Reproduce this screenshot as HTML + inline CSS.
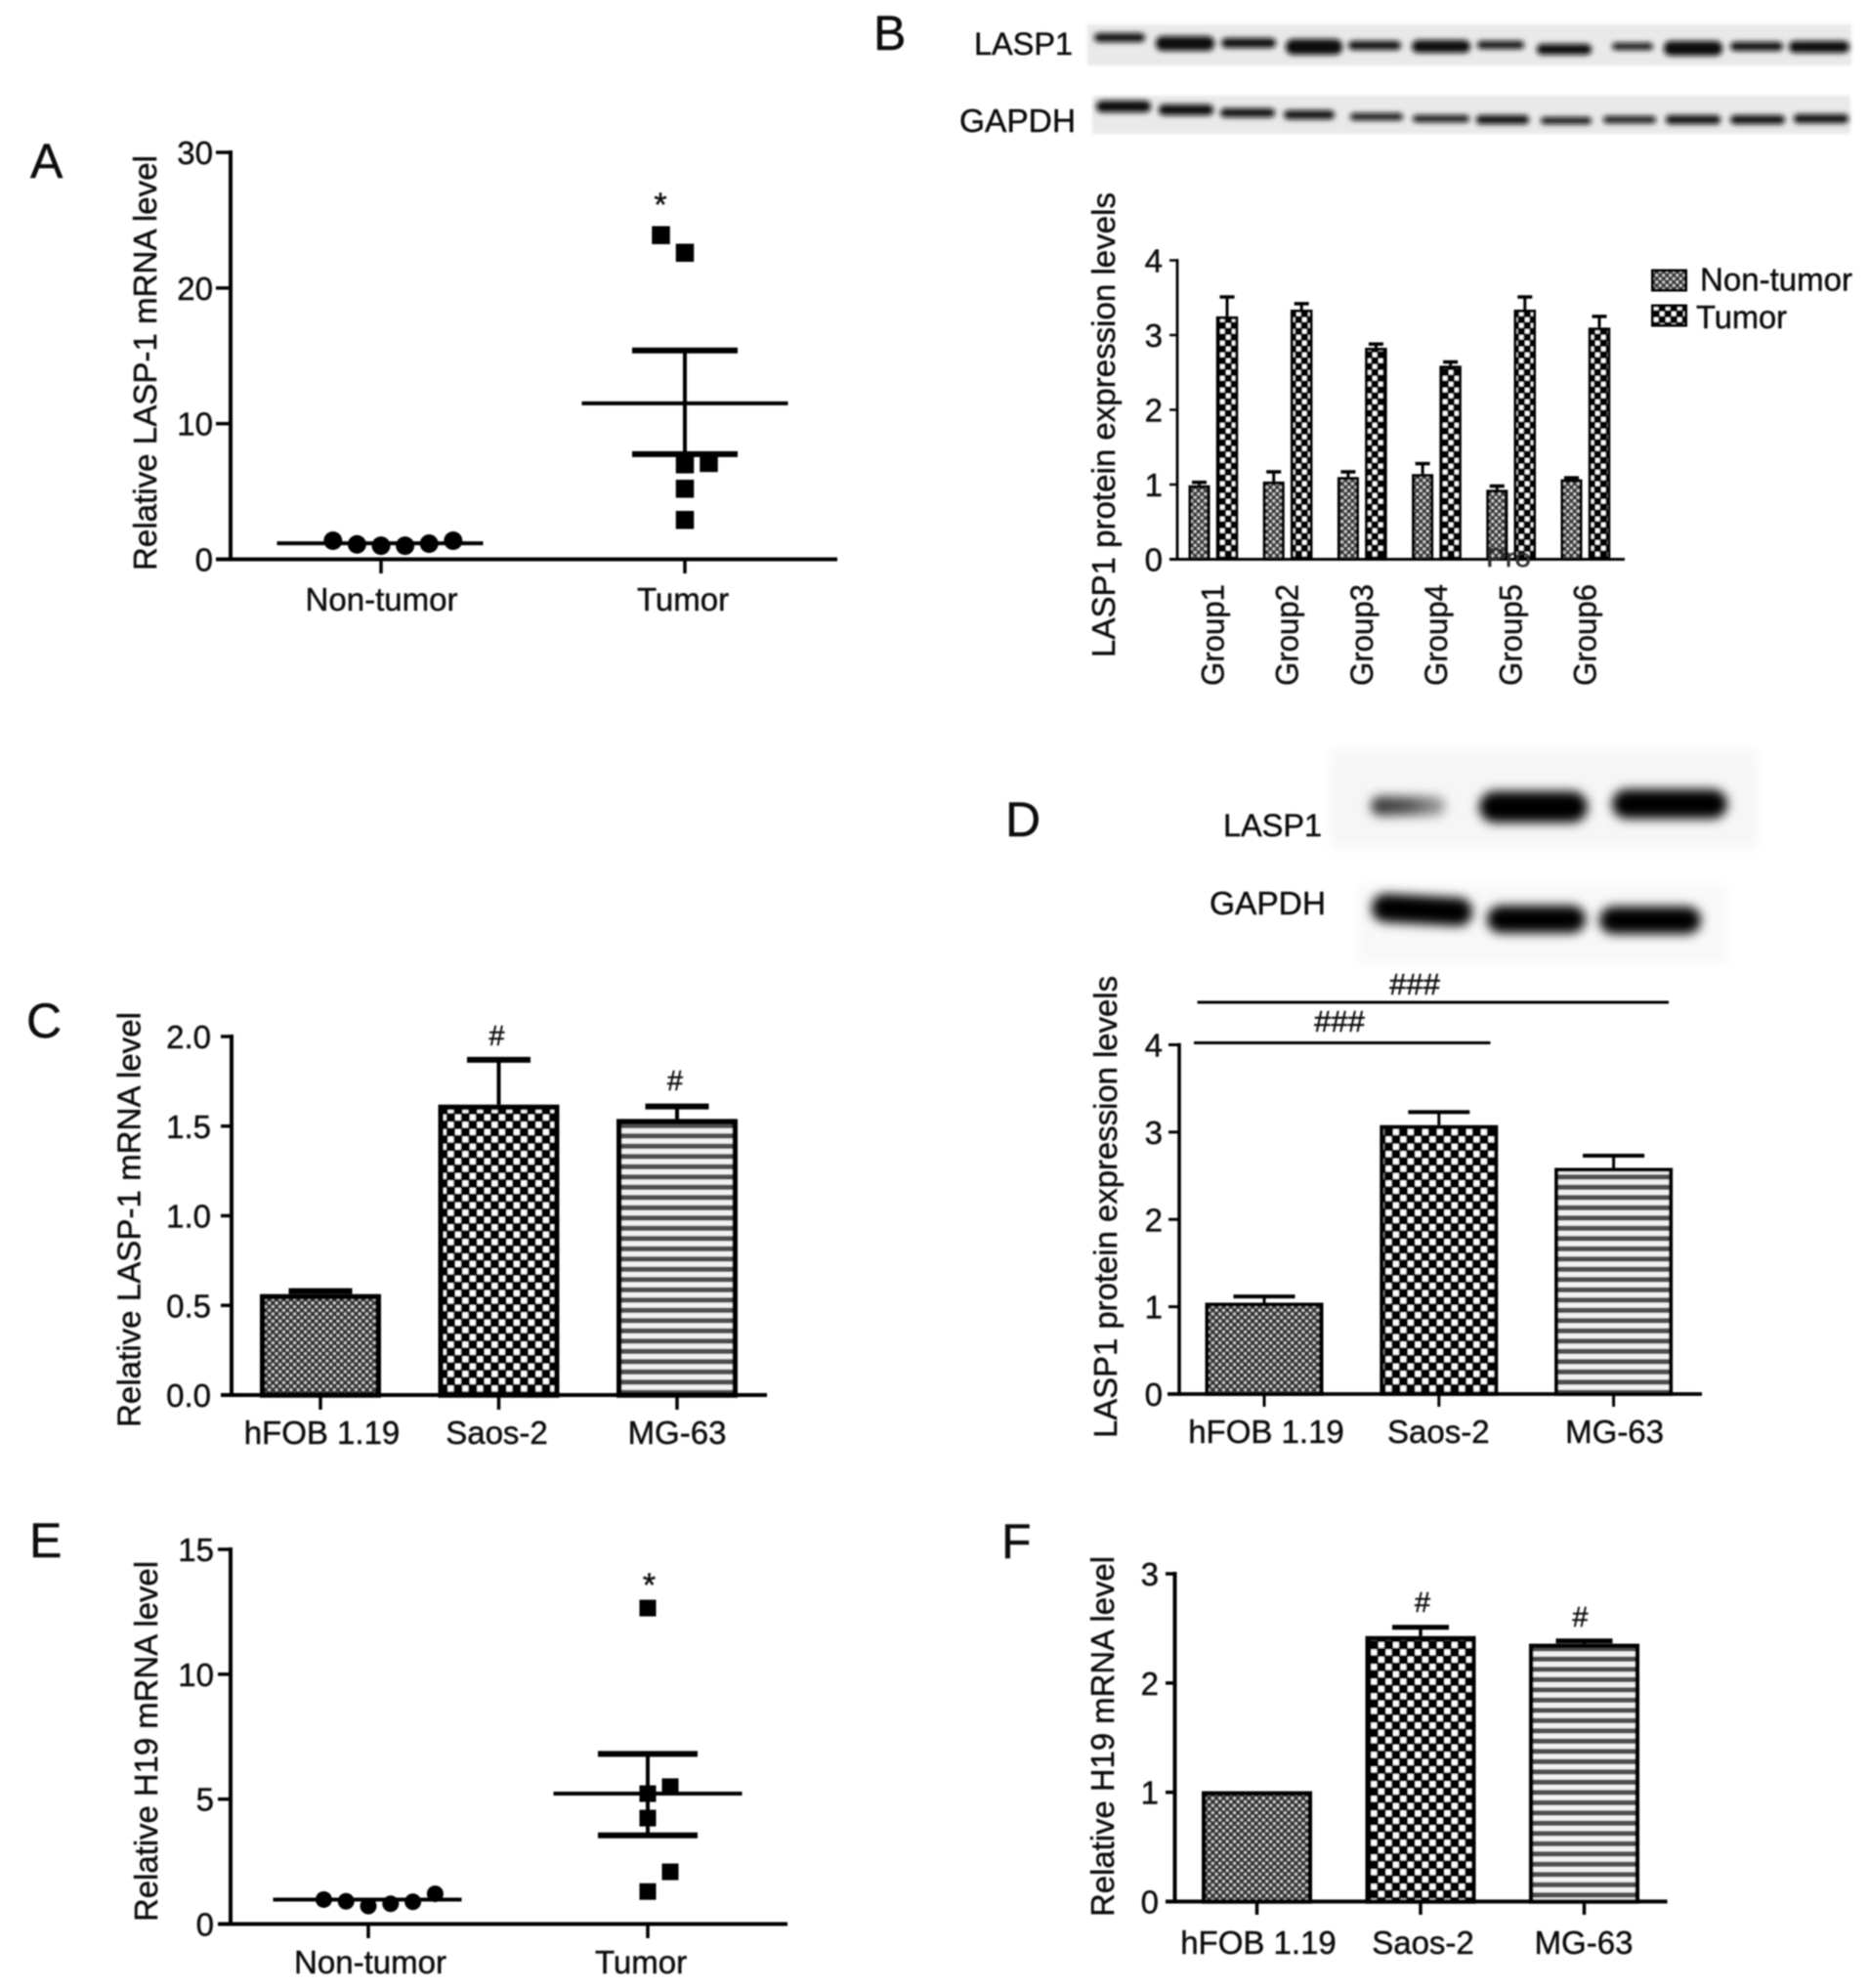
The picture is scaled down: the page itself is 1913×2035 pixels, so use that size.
<!DOCTYPE html>
<html lang="en">
<head>
<meta charset="utf-8">
<title>LASP1 and H19 expression figure</title>
<style>
  html, body { margin: 0; padding: 0; background: #fff; }
  body { width: 1913px; height: 2035px; overflow: hidden; }
  svg { display: block; }
  text { font-family: "Liberation Sans", sans-serif; fill: #111; stroke: #111; stroke-width: 0.45px; }
</style>
</head>
<body>
<svg id="figure" xmlns="http://www.w3.org/2000/svg" width="1913" height="2035" viewBox="0 0 1913 2035">
  <defs>
    <filter id="soft" x="-2%" y="-2%" width="104%" height="104%"><feGaussianBlur stdDeviation="0.75"/></filter>
    <filter id="bandBlur" x="-20%" y="-100%" width="140%" height="300%"><feGaussianBlur stdDeviation="2.8"/></filter>
    <filter id="bandBlurWide" x="-20%" y="-100%" width="140%" height="300%"><feGaussianBlur stdDeviation="5.5"/></filter>
    <filter id="stripBlur" x="-5%" y="-30%" width="110%" height="160%"><feGaussianBlur stdDeviation="1.5"/></filter>
    <filter id="stripBlurWide" x="-5%" y="-30%" width="110%" height="160%"><feGaussianBlur stdDeviation="6"/></filter>
    <pattern id="checkerL" patternUnits="userSpaceOnUse" width="15" height="15">
      <rect width="15" height="15" fill="#000"/>
      <rect x="1" y="1" width="5.8" height="5.8" fill="#fff"/>
      <rect x="8.5" y="8.5" width="5.8" height="5.8" fill="#fff"/>
    </pattern>
    <pattern id="checkerS" patternUnits="userSpaceOnUse" width="12" height="12">
      <rect width="12" height="12" fill="#000"/>
      <rect x="1" y="1" width="4.4" height="4.4" fill="#fff"/>
      <rect x="7" y="7" width="4.4" height="4.4" fill="#fff"/>
    </pattern>
    <pattern id="dotsL" patternUnits="userSpaceOnUse" width="7.4" height="7.4">
      <rect width="7.4" height="7.4" fill="#303030"/>
      <circle cx="1.85" cy="1.85" r="1.5" fill="#d8d8d8"/>
      <circle cx="5.55" cy="5.55" r="1.5" fill="#d8d8d8"/>
    </pattern>
    <pattern id="dotsS" patternUnits="userSpaceOnUse" width="7" height="7">
      <rect width="7" height="7" fill="#383838"/>
      <circle cx="1.75" cy="1.75" r="1.45" fill="#d6d6d6"/>
      <circle cx="5.25" cy="5.25" r="1.45" fill="#d6d6d6"/>
    </pattern>
    <pattern id="stripes" patternUnits="userSpaceOnUse" width="10.5" height="10.5">
      <rect width="10.5" height="10.5" fill="#f2f2f2"/>
      <rect y="5.2" width="10.5" height="5.3" fill="#505050"/>
    </pattern>
    <linearGradient id="fadeBand" x1="0" x2="1" y1="0" y2="0">
      <stop offset="0" stop-color="#333"/>
      <stop offset="0.5" stop-color="#555"/>
      <stop offset="1" stop-color="#aaa"/>
    </linearGradient>
  </defs>

  <rect width="1913" height="2035" fill="#fff"/>

  <g id="blots">
    <rect x="1113" y="25" width="782" height="42" fill="#e9e9e9" filter="url(#stripBlur)"/>
    <rect x="1118" y="98" width="776" height="39" fill="#e9e9e9" filter="url(#stripBlur)"/>
    <g fill="#111" filter="url(#bandBlur)">
      <rect x="1120" y="34" width="52" height="9" rx="4.5"/>
      <rect x="1183" y="37" width="60" height="15" rx="7"/>
      <rect x="1250" y="39" width="56" height="10" rx="5"/>
      <rect x="1316" y="40" width="58" height="16" rx="7.5"/>
      <rect x="1380" y="42" width="54" height="9" rx="4.5"/>
      <rect x="1445" y="41" width="60" height="13" rx="6.5"/>
      <rect x="1512" y="42" width="48" height="8" rx="4"/>
      <rect x="1573" y="45" width="56" height="11" rx="5"/>
      <rect x="1650" y="44" width="42" height="7" rx="3.5"/>
      <rect x="1703" y="42" width="60" height="15" rx="7"/>
      <rect x="1771" y="43" width="54" height="9" rx="4.5"/>
      <rect x="1831" y="42" width="62" height="12" rx="6"/>
    </g>
    <g fill="#111" filter="url(#bandBlur)">
      <rect x="1122" y="103" width="56" height="12" rx="6"/>
      <rect x="1186" y="107" width="56" height="11" rx="5"/>
      <rect x="1249" y="111" width="56" height="9" rx="4.5"/>
      <rect x="1314" y="113" width="52" height="9" rx="4.5"/>
      <rect x="1382" y="116" width="54" height="7" rx="3.5"/>
      <rect x="1446" y="118" width="58" height="7" rx="3.5"/>
      <rect x="1511" y="118" width="54" height="9" rx="4"/>
      <rect x="1577" y="120" width="52" height="7" rx="3.5"/>
      <rect x="1641" y="119" width="54" height="7" rx="3.5"/>
      <rect x="1705" y="118" width="56" height="9" rx="4"/>
      <rect x="1771" y="118" width="56" height="9" rx="4.5"/>
      <rect x="1836" y="117" width="56" height="9" rx="4"/>
    </g>
    <rect x="1362" y="768" width="436" height="100" fill="#f6f6f6" filter="url(#stripBlurWide)"/>
    <rect x="1390" y="906" width="378" height="80" fill="#f8f8f8" filter="url(#stripBlurWide)"/>
    <g filter="url(#bandBlurWide)">
      <rect x="1403" y="815" width="77" height="20" rx="10" fill="url(#fadeBand)"/>
      <rect x="1514" y="810" width="111" height="32" rx="16" fill="#000"/>
      <rect x="1650" y="808" width="118" height="30" rx="15" fill="#000"/>
    </g>
    <g fill="#000" filter="url(#bandBlurWide)">
      <rect x="1404" y="917" width="103" height="29" rx="14" transform="rotate(3 1456 931)"/>
      <rect x="1522" y="927" width="101" height="28" rx="14"/>
      <rect x="1637" y="928" width="104" height="28" rx="14"/>
    </g>
  </g>

  <g id="ink" filter="url(#soft)"></g>
</svg>

<script>
// Panel A: LASP-1 mRNA scatter
const scatterCategories = ['Non-tumor', 'Tumor'];
const panelATicks = [0, 10, 20, 30];
const panelANonTumorValues = [1.37, 1.1, 1.0, 1.0, 1.15, 1.37];
const panelANonTumorSlots = [-2, -1, 0, 1, 2, 3];
const panelATumorValues = [23.9, 22.6, 7.0, 7.1, 5.2, 2.9];
const panelATumorSlots = [-1, 0, 0, 1, 0, 0];
const panelAMeans = [1.18, 11.5];
const panelATumorErrorRange = [7.75, 15.4];

// Panel E: H19 mRNA scatter
const panelETicks = [0, 5, 10, 15];
const panelENonTumorValues = [0.98, 0.91, 0.72, 0.81, 0.89, 1.21];
const panelENonTumorSlots = [-2, -1, 0, 1, 2, 3];
const panelETumorValues = [12.65, 5.22, 5.5, 4.24, 2.09, 1.3];
const panelETumorSlots = [0, 0, 1, 0, 1, 0];
const panelEMeans = [0.98, 5.22];
const panelETumorErrorRange = [3.55, 6.81];

// Panel B: grouped bars
const panelBGroups = ['Group1', 'Group2', 'Group3', 'Group4', 'Group5', 'Group6'];
const panelBTicks = [0, 1, 2, 3, 4];
const panelBNonTumor = [0.99, 1.04, 1.10, 1.14, 0.93, 1.07];
const panelBNonTumorUpper = [1.03, 1.17, 1.17, 1.28, 0.98, 1.09];
const panelBTumor = [3.25, 3.34, 2.83, 2.59, 3.34, 3.10];
const panelBTumorUpper = [3.51, 3.42, 2.88, 2.64, 3.51, 3.25];

// Panels C, D, F: cell line bars
const cellLines = ['hFOB 1.19', 'Saos-2', 'MG-63'];
const panelCTicks = ['0.0', '0.5', '1.0', '1.5', '2.0'];
const panelCValues = [0.563, 1.62, 1.54];
const panelCUpper = [0.58, 1.87, 1.61];
const panelDTicks = ['0', '1', '2', '3', '4'];
const panelDValues = [1.046, 3.08, 2.59];
const panelDUpper = [1.117, 3.23, 2.73];
const panelFTicks = ['0', '1', '2', '3'];
const panelFValues = [1.01, 2.43, 2.36];
const panelFUpper = [1.01, 2.51, 2.385];

const NS = 'http://www.w3.org/2000/svg';
const ink = document.getElementById('ink');

function make(tag, attrs, parent, name) {
  const el = document.createElementNS(NS, tag);
  for (const k in attrs) el.setAttribute(k, attrs[k]);
  
  
  parent.appendChild(el);
  return el;
}
function line(parent, name, x1, y1, x2, y2, w) {
  return make('line', { x1, y1, x2, y2, stroke: '#000', 'stroke-width': w }, parent, name);
}
function text(parent, name, str, x, y, size, opts) {
  const o = opts || {};
  const attrs = { x, y, 'font-size': size };
  if (o.anchor) attrs['text-anchor'] = o.anchor;
  if (o.length) { attrs.textLength = o.length; attrs.lengthAdjust = 'spacingAndGlyphs'; }
  if (o.fill) attrs.style = 'fill:' + o.fill;
  const el = make('text', attrs, parent, name);
  el.textContent = str;
  return el;
}
function vtext(parent, name, str, x, y, size, length) {
  const attrs = { x: 0, y: 0, 'font-size': size, transform: 'translate(' + x + ',' + y + ') rotate(-90)' };
  if (length) { attrs.textLength = length; attrs.lengthAdjust = 'spacingAndGlyphs'; }
  const el = make('text', attrs, parent, name);
  el.textContent = str;
  return el;
}
function linearY(y0, yTop, max) {
  return function (v) { return y0 - (v / max) * (y0 - yTop); };
}

function drawAxes(g, c) {
  const y = linearY(c.y0, c.yTop, c.max);
  line(g, 'y-axis', c.axisX, c.yTop - c.axisW / 2, c.axisX, c.y0 + c.axisW / 2, c.axisW);
  line(g, 'x-axis', c.xStart, c.y0, c.xEnd, c.y0, c.axisW);
  c.ticks.forEach(function (t) {
    const v = parseFloat(t);
    line(g, 'y-tick-' + t, c.tickLeft, y(v), c.axisX, y(v), c.tickW);
    text(g, 'y-tick-label-' + t, String(t), c.labelRight, y(v) + 12, c.fontSize, { anchor: 'end' });
  });
  return y;
}

function drawCategoryLabels(g, c, names, centers) {
  names.forEach(function (n, i) {
    if (c.xTickBottom) line(g, 'x-tick-' + n, centers[i], c.y0, centers[i], c.xTickBottom, c.tickW);
    text(g, 'x-label-' + n, n, centers[i] + c.labelOffsets[i], c.labelBase, c.fontSize, { anchor: 'middle' });
  });
}

function drawBar(g, name, cx, width, v, upper, y, y0, pattern, stroke, capW, capH, stemW) {
  const top = y(v);
  const up = y(upper);
  if (upper > v) {
    line(g, name + '-error-stem', cx, up, cx, top, stemW);
    line(g, name + '-error-cap', cx - capW / 2, up, cx + capW / 2, up, capH);
  }
  make('rect', {
    x: cx - width / 2 + stroke / 2, y: top + stroke / 2,
    width: width - stroke, height: y0 - top - stroke / 2,
    fill: 'url(#' + pattern + ')', stroke: '#000', 'stroke-width': stroke
  }, g, name);
}

function drawCellLinePanel(id, c, values, upper) {
  const g = make('g', {}, ink, id);
  const y = drawAxes(g, c);
  const centers = cellLines.map(function (_, i) { return c.firstCenter + i * c.step; });
  const patterns = ['dotsL', 'checkerL', 'stripes'];
  cellLines.forEach(function (n, i) {
    drawBar(g, 'bar-' + n, centers[i], c.barW, values[i], upper[i], y, c.y0, patterns[i], c.barStroke, c.capW, c.capH, c.stemW);
  });
  line(g, 'x-axis-overlay', c.xStart, c.y0, c.xEnd, c.y0, c.axisW);
  drawCategoryLabels(g, c, cellLines, centers);
  vtext(g, 'y-axis-title', c.title, c.titleX, c.titleY, c.fontSize, c.titleLen);
  return { g: g, y: y, centers: centers };
}

function drawScatterPanel(id, c, nonValues, nonSlots, tumorValues, tumorSlots, means, range) {
  const g = make('g', {}, ink, id);
  const y = drawAxes(g, c);
  const centers = scatterCategories.map(function (_, i) { return c.firstCenter + i * c.step; });
  nonValues.forEach(function (v, i) {
    make('circle', { cx: centers[0] + nonSlots[i] * c.slotNon, cy: y(v), r: c.dotR, fill: '#000' }, g, 'non-tumor-point');
  });
  line(g, 'non-tumor-mean-line', centers[0] - c.meanW / 2 + c.meanShift, y(means[0]), centers[0] + c.meanW / 2 + c.meanShift, y(means[0]), 4);
  line(g, 'tumor-mean-line', centers[1] - c.meanW / 2, y(means[1]), centers[1] + c.meanW / 2, y(means[1]), 4);
  line(g, 'tumor-error-stem', centers[1], y(range[1]), centers[1], y(range[0]), 4);
  line(g, 'tumor-error-cap-upper', centers[1] - c.capW / 2, y(range[1]), centers[1] + c.capW / 2, y(range[1]), c.capH);
  line(g, 'tumor-error-cap-lower', centers[1] - c.capW / 2, y(range[0]), centers[1] + c.capW / 2, y(range[0]), c.capH);
  tumorValues.forEach(function (v, i) {
    make('rect', {
      x: centers[1] + tumorSlots[i] * c.slotTumor - c.square / 2,
      y: y(v) - c.square / 2, width: c.square, height: c.square, fill: '#000'
    }, g, 'tumor-point');
  });
  drawCategoryLabels(g, c, scatterCategories, centers);
  vtext(g, 'y-axis-title', c.title, c.titleX, c.titleY, c.fontSize, c.titleLen);
  return g;
}

// ---- Panel A
const gA = drawScatterPanel('panel-a', {
  axisX: 236, axisW: 4, xStart: 221, xEnd: 857, y0: 572.5, yTop: 156, max: 30, ticks: panelATicks,
  tickLeft: 221, tickW: 3.5, labelRight: 218, fontSize: 33, xTickBottom: 587, labelBase: 625,
  firstCenter: 390, step: 311, labelOffsets: [0.5, -2], dotR: 9.5, slotNon: 24.6, meanW: 211,
  meanShift: -1, capW: 108, capH: 6, square: 18.5, slotTumor: 24.5,
  title: 'Relative LASP-1 mRNA level', titleX: 160, titleY: 584, titleLen: 425
}, panelANonTumorValues, panelANonTumorSlots, panelATumorValues, panelATumorSlots, panelAMeans, panelATumorErrorRange);
text(gA, 'significance-star', '*', 676, 221, 34, { anchor: 'middle' });

// ---- Panel E
const gE = drawScatterPanel('panel-e', {
  axisX: 236, axisW: 4, xStart: 223, xEnd: 806, y0: 1969.5, yTop: 1586, max: 15, ticks: panelETicks,
  tickLeft: 223, tickW: 3.5, labelRight: 219, fontSize: 33, xTickBottom: 1984, labelBase: 2020,
  firstCenter: 377, step: 286, labelOffsets: [2, -7], dotR: 8.5, slotNon: 22.8, meanW: 193,
  meanShift: -1, capW: 102, capH: 6, square: 17, slotTumor: 23,
  title: 'Relative H19 mRNA level', titleX: 161, titleY: 1967, titleLen: 369
}, panelENonTumorValues, panelENonTumorSlots, panelETumorValues, panelETumorSlots, panelEMeans, panelETumorErrorRange);
text(gE, 'significance-star', '*', 664.5, 1634, 34, { anchor: 'middle' });

// ---- Panel C
const pC = drawCellLinePanel('panel-c', {
  axisX: 237, axisW: 4, xStart: 226, xEnd: 785, y0: 1428, yTop: 1061, max: 2, ticks: panelCTicks,
  tickLeft: 226, tickW: 3.5, labelRight: 216, fontSize: 33, xTickBottom: 1443, labelBase: 1478,
  firstCenter: 328, step: 182.5, labelOffsets: [1.5, -2, 0], barW: 124, barStroke: 5.5, capW: 65, capH: 6, stemW: 4,
  title: 'Relative LASP-1 mRNA level', titleX: 143.5, titleY: 1461, titleLen: 425
}, panelCValues, panelCUpper);
text(pC.g, 'significance-hash-saos-2', '#', pC.centers[1] - 2, 1070, 29, { anchor: 'middle' });
text(pC.g, 'significance-hash-mg-63', '#', pC.centers[2] - 2, 1116, 29, { anchor: 'middle' });

// ---- Panel D
const pD = drawCellLinePanel('panel-d', {
  axisX: 1207, axisW: 3.5, xStart: 1195, xEnd: 1742, y0: 1427, yTop: 1069.5, max: 4, ticks: panelDTicks,
  tickLeft: 1196, tickW: 3, labelRight: 1190, fontSize: 33, xTickBottom: 1440, labelBase: 1477,
  firstCenter: 1294, step: 178.8, labelOffsets: [2, -0.5, 1], barW: 121, barStroke: 4, capW: 63, capH: 4, stemW: 3,
  title: 'LASP1 protein expression levels', titleX: 1143, titleY: 1472, titleLen: 473
}, panelDValues, panelDUpper);
line(pD.g, 'significance-bracket-mg-63', 1225.5, 1026, 1708, 1026, 3);
line(pD.g, 'significance-bracket-saos-2', 1222, 1067.5, 1525.5, 1067.5, 3);
text(pD.g, 'significance-hash-mg-63', '###', 1448, 1018, 31, { anchor: 'middle' });
text(pD.g, 'significance-hash-saos-2', '###', 1371, 1056, 31, { anchor: 'middle' });

// ---- Panel F
const pF = drawCellLinePanel('panel-f', {
  axisX: 1202.5, axisW: 4, xStart: 1193, xEnd: 1706.5, y0: 1946.5, yTop: 1611, max: 3, ticks: panelFTicks,
  tickLeft: 1193, tickW: 3.5, labelRight: 1186, fontSize: 33, xTickBottom: 1960, labelBase: 2000,
  firstCenter: 1286.5, step: 167.5, labelOffsets: [1.5, 2.5, -0.5], barW: 113, barStroke: 4.5, capW: 58, capH: 5, stemW: 3.5,
  title: 'Relative H19 mRNA level', titleX: 1140, titleY: 1962, titleLen: 369
}, panelFValues, panelFUpper);
text(pF.g, 'significance-hash-saos-2', '#', pF.centers[1] + 2, 1650, 29, { anchor: 'middle' });
text(pF.g, 'significance-hash-mg-63', '#', pF.centers[2] - 4, 1665, 29, { anchor: 'middle' });

// ---- Panel B
const gB = make('g', {}, ink, 'panel-b');
const yB = drawAxes(gB, {
  axisX: 1205, axisW: 2.8, xStart: 1197, xEnd: 1663, y0: 572.5, yTop: 266.5, max: 4, ticks: panelBTicks,
  tickLeft: 1197, tickW: 2.5, labelRight: 1190, fontSize: 33
});
panelBGroups.forEach(function (name, i) {
  const center = 1242 + i * 76.2;
  drawBar(gB, name + '-non-tumor-bar', center - 14.5, 22, panelBNonTumor[i], panelBNonTumorUpper[i], yB, 572.5, 'dotsS', 3, 15, 3.5, 3);
  drawBar(gB, name + '-tumor-bar', center + 14, 22.5, panelBTumor[i], panelBTumorUpper[i], yB, 572.5, 'checkerS', 3, 15, 3.5, 3);
  vtext(gB, 'x-label-' + name, name, center + 10.5, 702, 32, 104);
});
line(gB, 'x-axis-overlay', 1197, 572.5, 1663, 572.5, 2.8);
text(gB, 'stray-overlay-text', 'Pro', 1521, 580, 27, { length: 46, fill: '#333' });
vtext(gB, 'y-axis-title', 'LASP1 protein expression levels', 1141, 673, 33, 476);

// legend
const legend = make('g', {}, gB, 'legend');
make('rect', { x: 1691.5, y: 277, width: 34, height: 20, fill: 'url(#dotsS)', stroke: '#000', 'stroke-width': 3 }, legend, 'legend-swatch-non-tumor');
make('rect', { x: 1691.5, y: 313, width: 34, height: 20, fill: 'url(#checkerS)', stroke: '#000', 'stroke-width': 3 }, legend, 'legend-swatch-tumor');
text(legend, 'legend-label-non-tumor', 'Non-tumor', 1740, 297.5, 33, { length: 156 });
text(legend, 'legend-label-tumor', 'Tumor', 1736, 336, 33, { length: 93 });

// ---- Blot labels and panel letters
const labels = make('g', {}, ink, 'annotations');
text(labels, 'blot-b-lasp1-label', 'LASP1', 997, 56, 32, { length: 101 });
text(labels, 'blot-b-gapdh-label', 'GAPDH', 982, 135, 33, { length: 119 });
text(labels, 'blot-d-lasp1-label', 'LASP1', 1252, 856, 32, { length: 101 });
text(labels, 'blot-d-gapdh-label', 'GAPDH', 1238, 936, 33, { length: 119 });
text(labels, 'panel-letter-a', 'A', 31, 182, 50);
text(labels, 'panel-letter-b', 'B', 894, 51, 50);
text(labels, 'panel-letter-c', 'C', 27, 1062, 50);
text(labels, 'panel-letter-d', 'D', 1029, 856, 50);
text(labels, 'panel-letter-e', 'E', 30, 1594, 50);
text(labels, 'panel-letter-f', 'F', 1025, 1595, 50);
</script>
</body>
</html>
